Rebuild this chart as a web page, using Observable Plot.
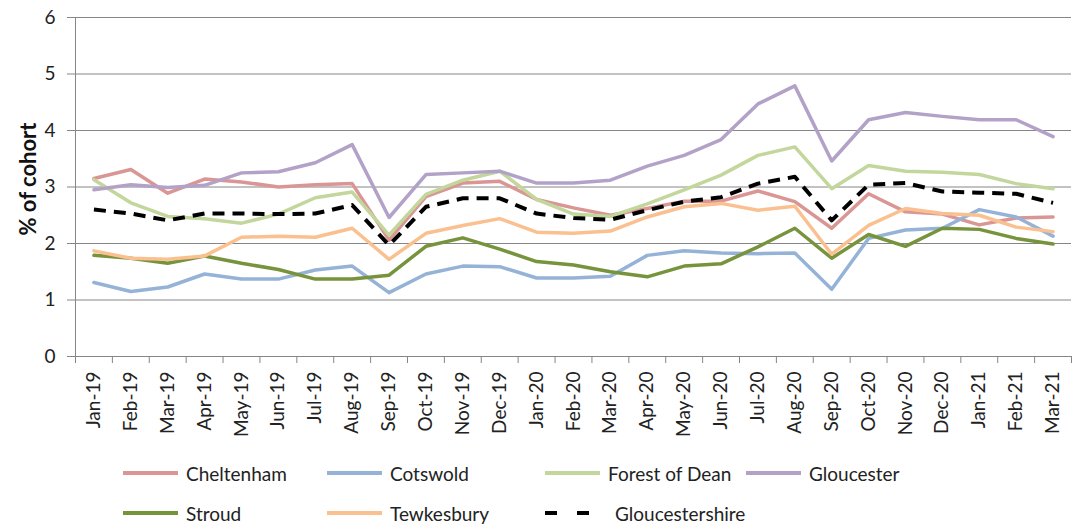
<!DOCTYPE html>
<html>
<head>
<meta charset="utf-8">
<script src="https://cdn.jsdelivr.net/npm/d3@7"></script>
<script src="https://cdn.jsdelivr.net/npm/@observablehq/plot@0.6"></script>
<style>
  body { margin: 0; background: #fff; font-family: Lato, "Open Sans", sans-serif; }
  #wrap { width: 1077px; height: 524px; position: relative; overflow: hidden; }
  #legend { position: relative; width: 1077px; height: 84px; }
  .item { position: absolute; display: flex; align-items: center; font-size: 19px; color: #222; white-space: nowrap; }
  .item svg { margin-right: 8px; }
  #ylabel { position: absolute; left: 27px; top: 179px; transform: translate(-50%, -50%) rotate(-90deg);
            font-weight: bold; font-size: 22px; color: #111; white-space: nowrap; }
</style>
</head>
<body>
<div id="wrap"><div id="chart"></div><div id="legend"></div><div id="ylabel">% of cohort</div></div>
<script>
const months = ["Jan-19","Feb-19","Mar-19","Apr-19","May-19","Jun-19","Jul-19","Aug-19","Sep-19","Oct-19","Nov-19","Dec-19",
  "Jan-20","Feb-20","Mar-20","Apr-20","May-20","Jun-20","Jul-20","Aug-20","Sep-20","Oct-20","Nov-20","Dec-20",
  "Jan-21","Feb-21","Mar-21"];
const yTicks = [0, 1, 2, 3, 4, 5, 6];

const cheltenham     = [3.15,3.31,2.89,3.14,3.09,3.00,3.04,3.06,2.06,2.83,3.07,3.10,2.78,2.63,2.50,2.62,2.75,2.75,2.93,2.74,2.27,2.88,2.56,2.52,2.33,2.45,2.47];
const cotswold       = [1.31,1.15,1.23,1.46,1.37,1.37,1.53,1.60,1.13,1.46,1.60,1.59,1.39,1.39,1.42,1.79,1.87,1.83,1.82,1.83,1.19,2.09,2.24,2.27,2.60,2.47,2.13];
const forestOfDean   = [3.13,2.72,2.48,2.44,2.36,2.52,2.81,2.91,2.15,2.87,3.12,3.28,2.78,2.52,2.48,2.70,2.95,3.21,3.56,3.71,2.97,3.38,3.28,3.26,3.22,3.06,2.97];
const gloucester     = [2.95,3.04,2.99,3.03,3.25,3.27,3.43,3.75,2.46,3.22,3.25,3.28,3.07,3.07,3.12,3.37,3.56,3.84,4.47,4.79,3.46,4.19,4.32,4.25,4.19,4.19,3.89];
const stroud         = [1.79,1.74,1.65,1.78,1.65,1.54,1.37,1.37,1.44,1.95,2.10,1.90,1.68,1.62,1.50,1.41,1.60,1.64,1.94,2.27,1.74,2.16,1.95,2.27,2.25,2.09,1.99];
const tewkesbury     = [1.87,1.74,1.72,1.78,2.11,2.13,2.11,2.27,1.72,2.18,2.32,2.44,2.20,2.18,2.22,2.47,2.65,2.71,2.59,2.66,1.81,2.32,2.62,2.53,2.50,2.29,2.21];
const gloucestershire= [2.60,2.53,2.41,2.53,2.53,2.52,2.53,2.68,1.97,2.65,2.80,2.80,2.53,2.45,2.42,2.59,2.74,2.82,3.06,3.18,2.41,3.04,3.07,2.92,2.90,2.88,2.72];

const series = [
  {name: "Cheltenham", values: cheltenham, color: "#d99694", dash: null},
  {name: "Cotswold", values: cotswold, color: "#95b3d7", dash: null},
  {name: "Forest of Dean", values: forestOfDean, color: "#c3d69b", dash: null},
  {name: "Gloucester", values: gloucester, color: "#b3a2c7", dash: null},
  {name: "Stroud", values: stroud, color: "#77933c", dash: null},
  {name: "Tewkesbury", values: tewkesbury, color: "#fac090", dash: null},
  {name: "Gloucestershire", values: gloucestershire, color: "#000000", dash: "12,8"}
];

const idx = months.map((_, i) => i);
const bounds = d3.range(months.length + 1).map(i => i - 0.5);
const grey = "#868686";

const lineMarks = series.map(s => Plot.line(s.values, {
  x: (d, i) => i, y: d => d, stroke: s.color, strokeWidth: s.dash ? 4 : 3.5,
  strokeDasharray: s.dash || undefined, strokeLinecap: s.dash ? "butt" : "round"
}));

const chart = Plot.plot({
  width: 1077, height: 440,
  marginLeft: 75, marginRight: 6, marginTop: 17, marginBottom: 84,
  x: {domain: [-0.5, months.length - 0.5]},
  y: {domain: [0, 6]},
  style: {fontFamily: "Lato, 'Open Sans', sans-serif", background: "#fff", color: "#222"},
  marks: [
    Plot.gridY(yTicks, {stroke: grey, strokeOpacity: 1}),
    Plot.ruleX([-0.5], {stroke: grey}),
    Plot.axisY(yTicks, {tickSize: 8, tickPadding: 12, fontSize: 19, label: null, stroke: grey, tickFormat: d3.format("d")}),
    Plot.axisX(bounds, {tickSize: 7, tickFormat: () => "", label: null, stroke: grey}),
    Plot.axisX(idx, {tickSize: 0, tickPadding: 15, tickRotate: -90, tickFormat: i => months[i], fontSize: 19, label: null}),
    ...lineMarks
  ]
});
document.getElementById("chart").appendChild(chart);

// legend
const legendPos = [
  {x: 123, row: 0}, {x: 327, row: 0}, {x: 545, row: 0}, {x: 746, row: 0},
  {x: 123, row: 1}, {x: 327, row: 1}, {x: 545, row: 1}
];
const legend = document.getElementById("legend");
series.forEach((s, k) => {
  const p = legendPos[k];
  const div = document.createElement("div");
  div.className = "item";
  div.style.left = p.x + "px";
  div.style.top = (p.row === 0 ? 21 : 61) + "px";
  const w = s.dash ? 60 : 55;
  const sw = s.dash
    ? `<svg width="${w}" height="24"><line x1="0" y1="12" x2="44" y2="12" stroke="${s.color}" stroke-width="4" stroke-dasharray="12,20"/></svg>`
    : `<svg width="${w}" height="24"><line x1="0" y1="12" x2="${w}" y2="12" stroke="${s.color}" stroke-width="4"/></svg>`;
  div.innerHTML = sw + `<span style="${s.dash ? 'margin-left:2px' : ''}">${s.name}</span>`;
  legend.appendChild(div);
});
</script>
</body>
</html>
